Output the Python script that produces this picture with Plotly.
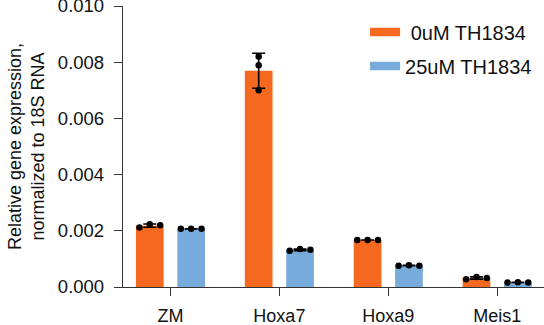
import plotly.graph_objects as go
import numpy as np

# ---- data ----
genes = ["ZM", "Hoxa7", "Hoxa9", "Meis1"]
series_names = ["\u00a00uM TH1834", "25uM TH1834"]
reps_0uM = [
    [0.00212, 0.00223, 0.00220],
    [0.00820, 0.00789, 0.00700],
    [0.00167, 0.00167, 0.00167],
    [0.00028, 0.00036, 0.00032],
]
reps_25uM = [
    [0.00207, 0.00207, 0.00207],
    [0.00129, 0.00135, 0.00133],
    [0.00076, 0.00077, 0.00076],
    [0.00016, 0.00017, 0.00016],
]
y_ticks = [0.000, 0.002, 0.004, 0.006, 0.008, 0.010]

# ---- style ----
colors = ["#F4691F", "#76ABDC"]
FONT = "Liberation Sans, Arial, sans-serif"
AX = "#333333"
BARGAP = 0.24
GROUPGAP = 0.33
slot = (1 - BARGAP) / 2
group_offsets = [-slot / 2, slot / 2]
SPREAD = 0.095          # horizontal spread of overlapping dots (x units)
OVERLAP = 0.0003        # values closer than this overlap visually

fig = go.Figure()
xs = np.arange(len(genes))
for k, reps in enumerate([reps_0uM, reps_25uM]):
    arr = np.array(reps)
    mean = arr.mean(axis=1)
    sd = arr.std(axis=1, ddof=1)
    fig.add_trace(go.Bar(
        x=xs, y=mean, marker=dict(color=colors[k], line=dict(width=0)),
        error_y=dict(type="data", array=sd, color="black", thickness=1.6, width=6.5),
        showlegend=False,
    ))
for k, reps in enumerate([reps_0uM, reps_25uM]):
    px, py = [], []
    for i, r in enumerate(reps):
        spread = (max(r) - min(r)) < OVERLAP
        n = len(r)
        for j, v in enumerate(r):
            off = (j - (n - 1) / 2) * SPREAD if spread else 0.0
            px.append(i + group_offsets[k] + off)
            py.append(v)
    fig.add_trace(go.Scatter(x=px, y=py, mode="markers",
                             marker=dict(color="black", size=6.5),
                             showlegend=False))
# legend entries
for k in range(2):
    fig.add_trace(go.Scatter(x=[None], y=[None], mode="lines",
                             line=dict(color=colors[k], width=8.5),
                             name=series_names[k], legendgroup=str(k)))

fig.update_layout(
    width=544, height=325,
    margin=dict(l=123, r=0, t=6, b=38),
    paper_bgcolor="white", plot_bgcolor="white",
    barmode="group", bargap=BARGAP, bargroupgap=GROUPGAP,
    font=dict(family=FONT, color="#111111", size=18),
    legend=dict(x=0.575, y=0.977, xanchor="left", yanchor="top",
                font=dict(size=20, family=FONT, color="#111111"),
                bgcolor="rgba(0,0,0,0)", tracegroupgap=5),
    showlegend=True,
)
fig.update_xaxes(
    range=[-0.436, 3.43], tickmode="array", tickvals=list(xs), ticktext=genes,
    showline=True, linecolor=AX, linewidth=1.3, ticks="outside", ticklen=8,
    tickcolor=AX, tickwidth=1.3, showgrid=False, zeroline=False,
    tickfont=dict(size=18), ticklabelstandoff=4, automargin=False,
)
fig.update_yaxes(
    range=[0, 0.0100001], tickmode="array", tickvals=y_ticks,
    ticktext=[f"{v:.3f}" for v in y_ticks],
    showline=True, linecolor=AX, linewidth=1.3, ticks="outside", ticklen=8,
    tickcolor=AX, tickwidth=1.3, showgrid=False, zeroline=False,
    tickfont=dict(size=18.5), ticklabelstandoff=6, ticklabeloverflow="allow",
    title=dict(text="Relative gene expression,<br>normalized to 18S RNA",
               font=dict(size=18), standoff=8),
    automargin="left",
)
fig.write_html("out.html", config={"displayModeBar": False},
               post_script="document.body.style.margin='0';")
